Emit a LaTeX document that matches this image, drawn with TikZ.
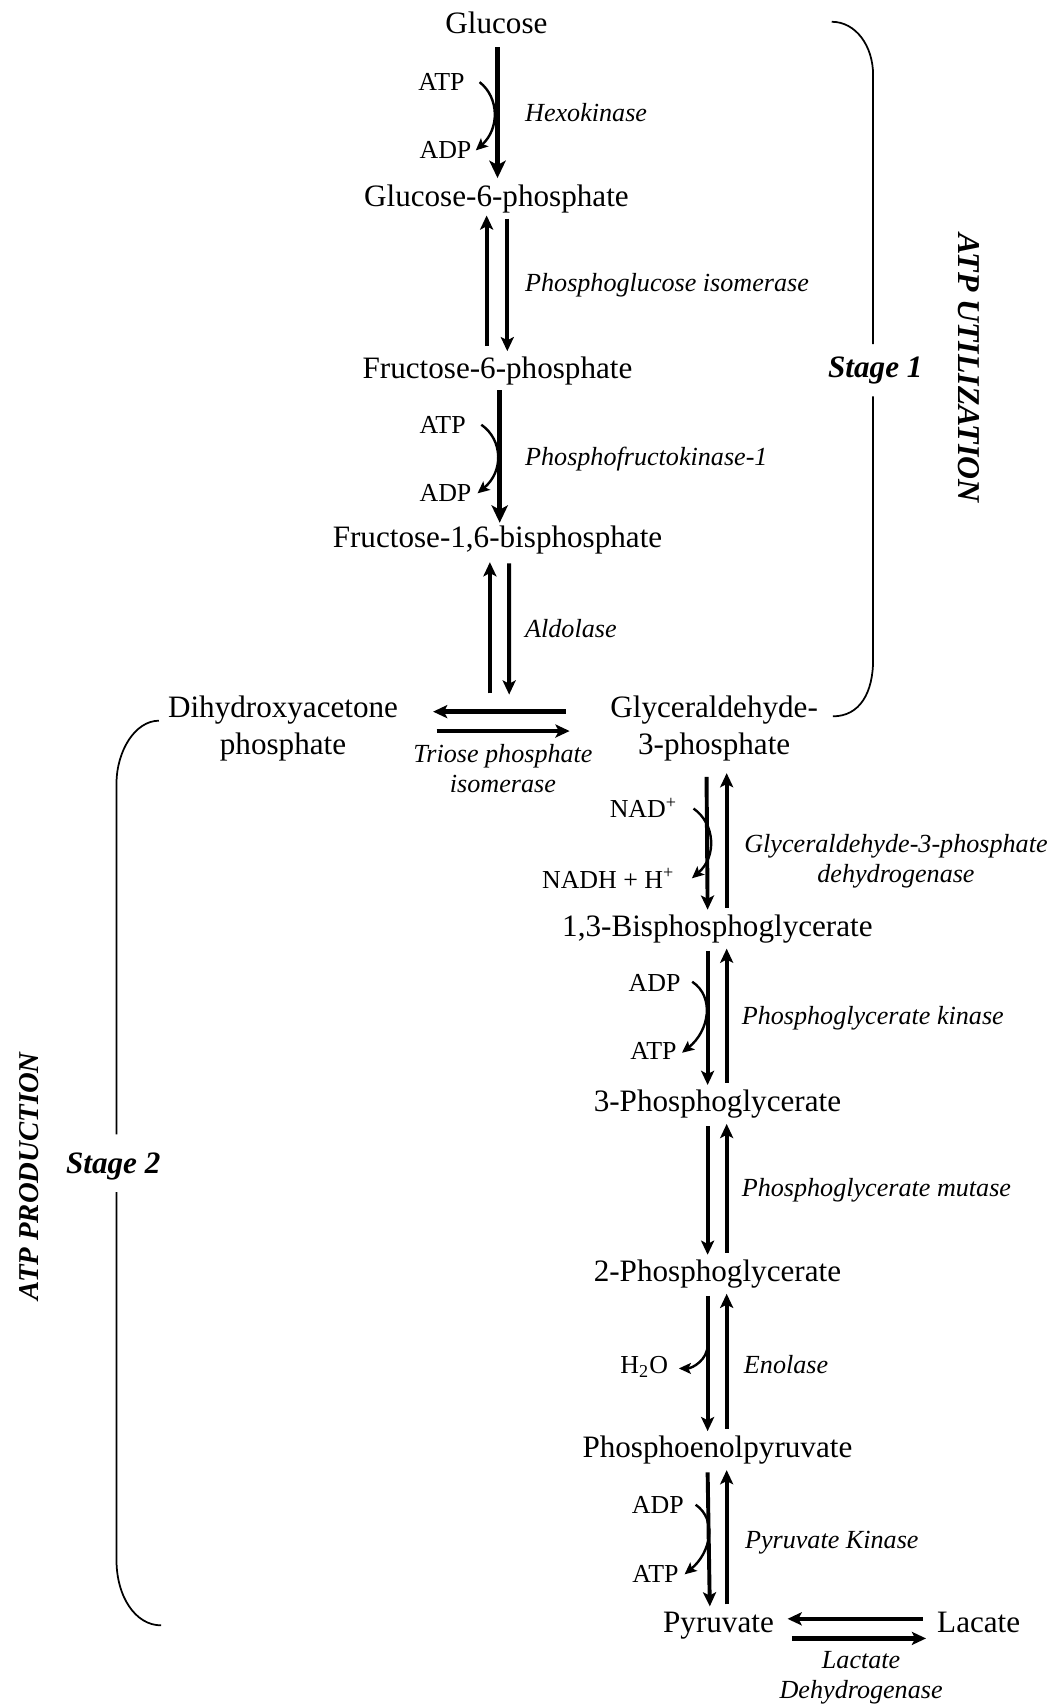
\documentclass[tikz,border=0pt]{standalone}
\usepackage{fontspec}
\setmainfont{Liberation Serif}
\usepackage{tikz}
\usetikzlibrary{arrows.meta}
\tikzstyle{metab} = [inner sep=0pt,anchor=base,text height=10pt,text depth=3pt,font=\fontsize{14.3}{17}\selectfont]
\tikzstyle{metabtwo} = [inner sep=0pt,align=center,font=\fontsize{14.3}{17}\selectfont]
\tikzstyle{enzyme} = [inner sep=0pt,anchor=base west,font=\fontsize{12}{14}\selectfont\itshape]
\tikzstyle{enzymetwo} = [inner sep=0pt,align=center,font=\fontsize{12}{14}\selectfont\itshape]
\tikzstyle{cofactor} = [inner sep=0pt,anchor=base west,font=\fontsize{11.9}{14}\selectfont]
\tikzstyle{stagelabel} = [inner sep=0pt,anchor=base,font=\fontsize{14.3}{17}\selectfont\bfseries\itshape]
\tikzstyle{irrev} = [line width=2.4pt,-{Stealth[length=8pt,width=7.5pt,inset=2pt]}]
\tikzstyle{rev} = [line width=1.8pt,-{Stealth[length=6.5pt,width=6pt,inset=1.5pt]}]
\tikzstyle{cofarrow} = [line width=1.1pt,-{Stealth[length=5.5pt,width=5pt,inset=1.2pt]}]
\tikzstyle{brace} = [line width=0.8pt]

\begin{document}
\begin{tikzpicture}[x=0.5pt,y=-0.5pt]
    \useasboundingbox (0,0) rectangle (970,1568);

    \node[metab] (glc) at (456,30.6) {Glucose};
    \node[metab] (g6p) at (456,190) {Glucose-6-phosphate};
    \node[metab] (f6p) at (457,348) {Fructose-6-phosphate};
    \node[metab] (fbp) at (457,503) {Fructose-1,6-bisphosphate};
    \node[metabtwo] (dhap) at (260,669) {Dihydroxyacetone\\phosphate};
    \node[metabtwo] (gap) at (656,669) {Glyceraldehyde-\\3-phosphate};
    \node[metab] (bpg) at (659,860) {1,3-Bisphosphoglycerate};
    \node[metab] (pg3) at (659,1021) {3-Phosphoglycerate};
    \node[metab] (pg2) at (659,1177) {2-Phosphoglycerate};
    \node[metab] (pep) at (659,1339) {Phosphoenolpyruvate};
    \node[metab] (pyr) at (660,1500) {Pyruvate};
    \node[metab] (lac) at (899,1500) {Lacate};
    \coordinate (aldo) at (459,637);

    \node[enzyme] (hk) at (482,112) {Hexokinase};
    \node[enzyme] (pgi) at (482,268) {Phosphoglucose isomerase};
    \node[enzyme] (pfk) at (482,428) {Phosphofructokinase-1};
    \node[enzyme] (ald) at (482,586) {Aldolase};
    \node[enzymetwo] (tpi) at (462,706) {Triose phosphate\\isomerase};
    \node[enzymetwo] (gapdh) at (823,791) {Glyceraldehyde-3-phosphate\\dehydrogenase};
    \node[enzyme] (pgk) at (681,941.5) {Phosphoglycerate kinase};
    \node[enzyme] (pgm) at (681,1099) {Phosphoglycerate mutase};
    \node[enzyme] (eno) at (683,1262) {Enolase};
    \node[enzyme] (pk) at (684,1422) {Pyruvate Kinase};
    \node[enzymetwo] (ldh) at (791,1541) {Lactate\\Dehydrogenase};

    \node[cofactor] (atpa) at (384,83.3) {ATP};
    \node[cofactor] (adpa) at (385,146) {ADP};
    \node[cofactor] (atpb) at (385,398) {ATP};
    \node[cofactor] (adpb) at (385,461) {ADP};
    \node[cofactor] (nad) at (559.7,751) {NAD\textsuperscript{+}};
    \node[cofactor] (nadh) at (497.5,816) {NADH + H\textsuperscript{+}};
    \node[cofactor] (adpc) at (577,911) {ADP};
    \node[cofactor] (atpc) at (578.7,973.6) {ATP};
    \node[cofactor] (water) at (569.5,1262) {H\textsubscript{2}O};
    \node[cofactor] (adpd) at (580,1390) {ADP};
    \node[cofactor] (atpd) at (580.5,1454) {ATP};

    \node[stagelabel] (st1) at (804,347) {Stage 1};
    \node[stagelabel] (st2) at (104,1077.6) {Stage 2};
    \node[inner sep=0pt,rotate=-90,font=\fontsize{14.6}{17}\selectfont\bfseries\itshape] (util) at (890,338) {ATP UTILIZATION};
    \node[inner sep=0pt,rotate=90,font=\fontsize{13.2}{16}\selectfont\bfseries\itshape] (prod) at (26.6,1080.6) {ATP PRODUCTION};

    \draw[irrev] ([xshift=0.5pt,yshift=-3.2pt]glc.south) to ([xshift=0.5pt,yshift=3pt]g6p.north);
    \draw[rev] ([xshift=-5pt,yshift=4.8pt]f6p.north) to ([xshift=-4.5pt,yshift=-0.75pt]g6p.south);
    \draw[rev] ([xshift=5pt,yshift=-2.25pt]g6p.south) to ([xshift=4.5pt,yshift=2.5pt]f6p.north);
    \draw[irrev] ([xshift=1pt,yshift=-2pt]f6p.south) to ([xshift=1pt,yshift=1.2pt]fbp.north);
    \draw[rev] ([xshift=-4.5pt]aldo) to ([xshift=-3.5pt,yshift=-3.5pt]fbp.south);
    \draw[rev] ([xshift=5.3pt,yshift=-4pt]fbp.south) to ([xshift=4.35pt,yshift=-0.5pt]aldo);

    \draw[rev,line width=2pt] ([xshift=-20.35pt,yshift=7.65pt]gap.west) to ([xshift=15.9pt,yshift=7.65pt]dhap.east);
    \draw[rev,line width=2pt] ([xshift=17.5pt,yshift=-1.25pt]dhap.east) to ([xshift=-18.55pt,yshift=-1.25pt]gap.west);

    \draw[rev] ([xshift=-3.5pt,yshift=-7.1pt]gap.south) to ([xshift=-4.5pt,yshift=2pt]bpg.north);
    \draw[rev] ([xshift=4.25pt,yshift=3pt]bpg.north) to ([xshift=5.75pt,yshift=-5.4pt]gap.south);
    \draw[rev] ([xshift=-4.5pt,yshift=-3.5pt]bpg.south) to ([xshift=-4.5pt,yshift=2pt]pg3.north);
    \draw[rev] ([xshift=4.25pt,yshift=3pt]pg3.north) to ([xshift=4.25pt,yshift=-2.5pt]bpg.south);
    \draw[rev] ([xshift=-4.5pt,yshift=-3.5pt]pg3.south) to ([xshift=-4.5pt,yshift=2pt]pg2.north);
    \draw[rev] ([xshift=4.25pt,yshift=3pt]pg2.north) to ([xshift=4.25pt,yshift=-2.5pt]pg3.south);
    \draw[rev] ([xshift=-4.5pt,yshift=-3.5pt]pg2.south) to ([xshift=-4.5pt,yshift=2pt]pep.north);
    \draw[rev] ([xshift=4.25pt,yshift=3pt]pep.north) to ([xshift=4.25pt,yshift=-2.5pt]pg2.south);
    \draw[rev] ([xshift=-4.5pt,yshift=-3.5pt]pep.south) to ([xshift=-4pt,yshift=2pt]pyr.north);
    \draw[rev] ([xshift=3.75pt,yshift=3pt]pyr.north) to ([xshift=4.25pt,yshift=-2.5pt]pep.south);

    \draw[rev,line width=2pt] ([xshift=-6.45pt,yshift=3pt]lac.west) to ([xshift=6.1pt,yshift=3pt]pyr.east);
    \draw[rev,line width=2pt] ([xshift=8.1pt,yshift=-6pt]pyr.east) to ([xshift=-4.95pt,yshift=-6pt]lac.west);

    \draw[cofarrow] ([xshift=6.7pt]atpa.east) .. controls +(18,14) and +(22,-20) .. ([xshift=1.8pt]adpa.east);
    \draw[cofarrow] ([xshift=7pt]atpb.east) .. controls +(20,14) and +(24,-20) .. ([xshift=2.6pt]adpb.east);
    \draw[cofarrow] ([xshift=7.3pt,yshift=4.15pt]nad.base east) .. controls +(20,14) and +(23,-20) .. ([xshift=7.8pt,yshift=4.6pt]nadh.base east);
    \draw[cofarrow] ([xshift=5.2pt,yshift=0.7pt]adpc.east) .. controls +(21,14) and +(25,-20) .. ([xshift=2.3pt,yshift=-0.65pt]atpc.east);
    \draw[cofarrow] ([xshift=-4.5pt,yshift=-26pt]pg2.south) .. controls +(0,14) and +(12,0) .. ([xshift=4.8pt,yshift=2.5pt]water.base east);
    \draw[cofarrow] ([xshift=5.3pt]adpd.east) .. controls +(20,14) and +(24,-20) .. ([xshift=2.6pt]atpd.east);

    \draw[brace] (764,20) .. controls (786,20) and (802,42) .. (802,69) -- (802,316);
    \draw[brace] (802,364) -- (802,606) .. controls (802,636) and (790,658) .. (765,658);
    \draw[brace] (146,662) .. controls (124,662) and (107,690) .. (107,720) -- (107,1042);
    \draw[brace] (107,1095) -- (107,1433) .. controls (107,1466) and (124,1493) .. (148,1493);
\end{tikzpicture}
\end{document}
